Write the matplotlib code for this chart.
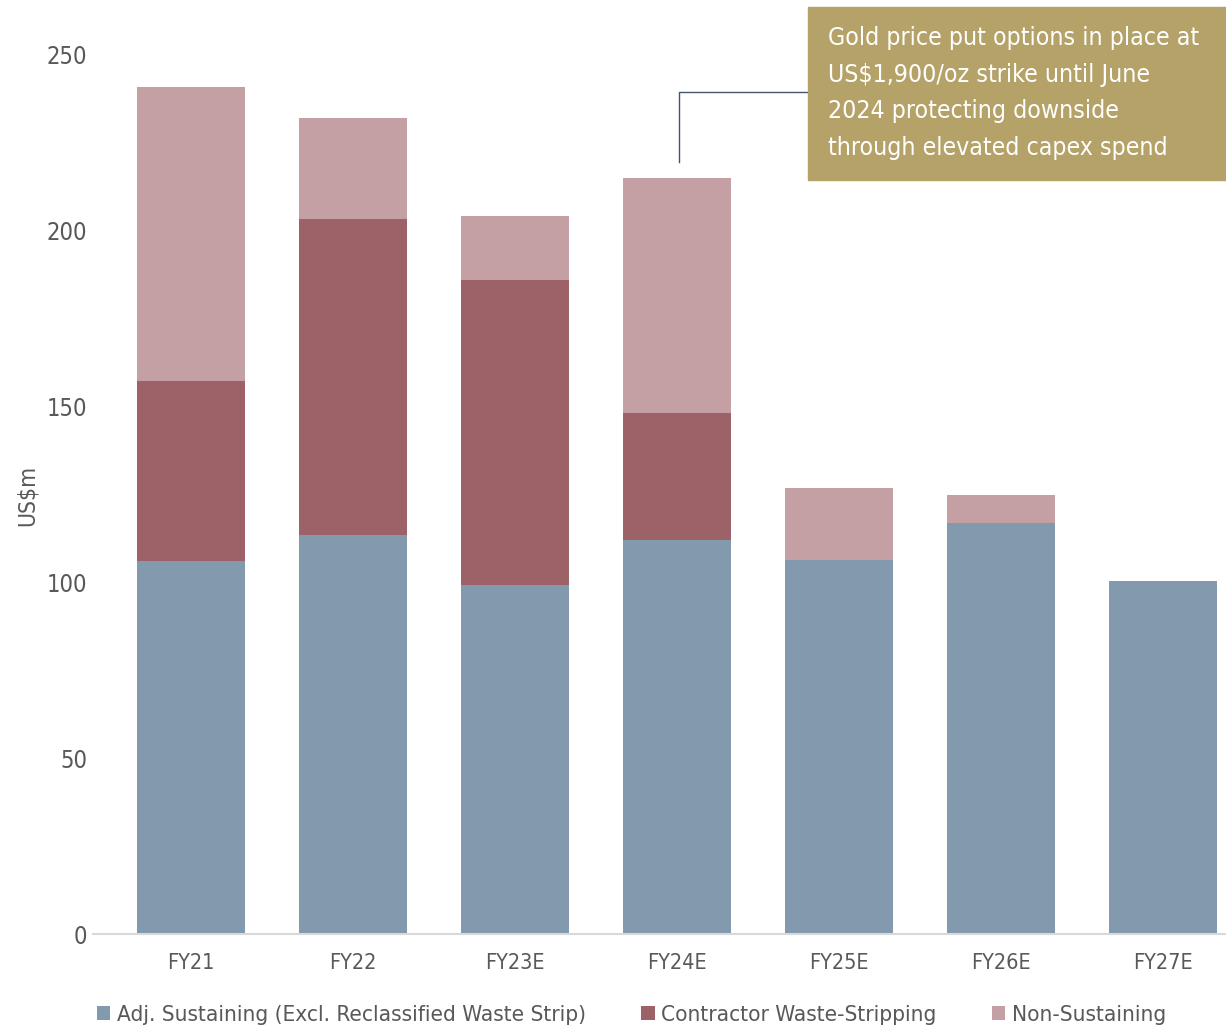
import matplotlib
matplotlib.use("Agg")
import matplotlib.pyplot as plt
import numpy as np

categories = ["FY21", "FY22", "FY23E", "FY24E", "FY25E", "FY26E", "FY27E"]
adj_sustaining = [106, 113.5, 99.3, 112, 106.4, 116.9, 100.4]
contractor_waste = [51.3, 89.9, 86.7, 36.1, 0, 0, 0]
non_sustaining = [83.6, 28.7, 18.2, 66.8, 20.4, 8.0, 0]

series_labels = ["Adj. Sustaining (Excl. Reclassified Waste Strip)",
                 "Contractor Waste-Stripping", "Non-Sustaining"]
colors = ["#8399AE", "#9D6267", "#C4A0A4"]
note = ("Gold price put options in place at\nUS$1,900/oz strike until June\n"
        "2024 protecting downside\nthrough elevated capex spend")

plt.rcParams["font.family"] = ["DejaVu Sans"]
plt.rcParams["font.stretch"] = "condensed"
GREY = "#595959"

fig = plt.figure(figsize=(12.26, 10.28), dpi=100)
ax = fig.add_axes([0.0759, 0.0914, 0.9241, 0.8551])

x = np.arange(len(categories))
w = 0.667
b1 = ax.bar(x, adj_sustaining, w, color=colors[0], label=series_labels[0])
b2 = ax.bar(x, contractor_waste, w, bottom=adj_sustaining, color=colors[1],
            label=series_labels[1])
bottom3 = np.add(adj_sustaining, contractor_waste)
b3 = ax.bar(x, non_sustaining, w, bottom=bottom3, color=colors[2],
            label=series_labels[2])

ax.set_xlim(-0.605, 6.39)
ax.set_ylim(0, 250)
ax.set_yticks(range(0, 251, 50))
ax.set_xticks(x)
ax.set_xticklabels(categories)
ax.tick_params(axis="both", length=0, colors=GREY)
ax.tick_params(axis="x", pad=14, labelsize=15.5)
ax.tick_params(axis="y", pad=4, labelsize=17)
for s in ["top", "right", "left"]:
    ax.spines[s].set_visible(False)
ax.spines["bottom"].set_color("#D9D9D9")
ax.spines["bottom"].set_linewidth(1.5)

fig.text(27 / 1226, 1 - 495 / 1028, "US$m", rotation=90, fontsize=16.5, color=GREY,
         ha="center", va="center")

# annotation box + connector
fig.patches.append(plt.Rectangle((808 / 1226, 1 - 180 / 1028), 418 / 1226, 173 / 1028,
                                 transform=fig.transFigure, color="#B5A269", zorder=5))
fig.text(828 / 1226, 1 - 93 / 1028, note, color="white", fontsize=17.8,
         va="center", ha="left", linespacing=1.68, zorder=6)
ax.plot([3.012, 3.012, 3.8], [219.6, 239.5, 239.5], color="#44546A", lw=1, clip_on=False)

fig.legend(handles=[b1, b2, b3], loc="center left", bbox_to_anchor=(0.079, 1 - 1015 / 1028),
           ncol=3, frameon=False, fontsize=16.2, handlelength=0.6, handleheight=0.6,
           handletextpad=0.3, columnspacing=2.45, labelcolor=GREY, borderpad=0,
           borderaxespad=0)

fig.savefig("out.png", dpi=100)
